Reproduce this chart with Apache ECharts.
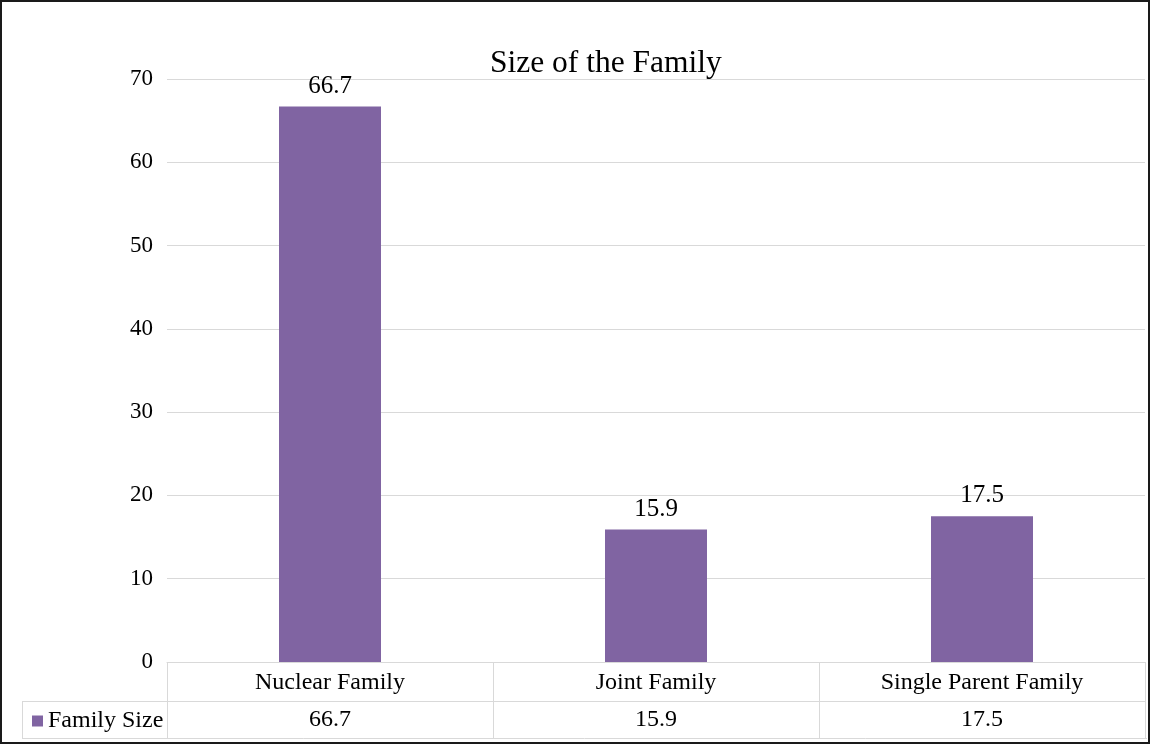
<!DOCTYPE html>
<html>
<head>
<meta charset="utf-8">
<script src="https://cdn.jsdelivr.net/npm/echarts@6/dist/echarts.min.js"></script>
<style>
  html, body { margin: 0; padding: 0; background: #fff; }
  #chart { width: 1150px; height: 744px; box-sizing: border-box; border: 2px solid #1a1a1a; }
</style>
</head>
<body>
<div id="chart"></div>
<script>
const categories = ['Nuclear Family', 'Joint Family', 'Single Parent Family'];
const familySize = [66.7, 15.9, 17.5];
const seriesName = 'Family Size';

const font = '"Liberation Serif", "Times New Roman", serif';
const lineGray = '#d9d9d9';
const barColor = '#8064a2';

const elem = document.getElementById('chart');
const myChart = echarts.init(elem, null, { renderer: 'canvas' });

myChart.setOption({
    animation: false,
    textStyle: { fontFamily: font, color: '#000' },
    title: {
        text: 'Size of the Family',
        left: 483,
        top: 41,
        textStyle: { fontFamily: font, fontSize: 31.5, fontWeight: 'normal', color: '#000' }
    },
    legend: {
        data: [seriesName],
        left: 25,
        top: 702,
        icon: 'rect',
        itemWidth: 11,
        itemHeight: 11,
        itemGap: 4,
        textStyle: { fontFamily: 'Liberation Serif', fontSize: 24, color: '#000' }
    },
    grid: { left: 165, right: 3, top: 77, bottom: 80 },
    xAxis: [{
        type: 'category',
        data: categories,
        position: 'bottom',
        axisLine: { lineStyle: { color: lineGray } },
        axisTick: { show: true, length: 76, lineStyle: { color: lineGray } },
        axisLabel: { fontFamily: font, fontSize: 24, color: '#000', margin: 9 }
    }, {
        type: 'category',
        data: categories,
        position: 'bottom',
        offset: 39,
        axisLine: { lineStyle: { color: lineGray } },
        axisTick: { show: false },
        axisLabel: {
            fontFamily: font, fontSize: 24, color: '#000', margin: 7,
            formatter: function (v, i) { return String(familySize[i]); }
        }
    }],
    yAxis: {
        type: 'value',
        min: 0,
        max: 70,
        interval: 10,
        axisLine: { show: false },
        axisTick: { show: false },
        splitLine: { lineStyle: { color: lineGray } },
        axisLabel: { fontFamily: font, fontSize: 23, color: '#000', margin: 14 }
    },
    series: [{
        name: seriesName,
        type: 'bar',
        data: familySize,
        barWidth: 102,
        itemStyle: { color: barColor },
        label: {
            show: true,
            position: 'top',
            distance: 8,
            fontFamily: font,
            fontSize: 25,
            color: '#000'
        }
    }],
    graphic: [
        { type: 'line', shape: { x1: 20, y1: 699.5, x2: 165, y2: 699.5 }, style: { stroke: lineGray, lineWidth: 1 } },
        { type: 'line', shape: { x1: 20, y1: 736.5, x2: 1145, y2: 736.5 }, style: { stroke: lineGray, lineWidth: 1 } },
        { type: 'line', shape: { x1: 20.5, y1: 699, x2: 20.5, y2: 737 }, style: { stroke: lineGray, lineWidth: 1 } }
    ]
});

window.addEventListener('resize', function () {
    myChart.resize();
});
</script>
</body>
</html>
